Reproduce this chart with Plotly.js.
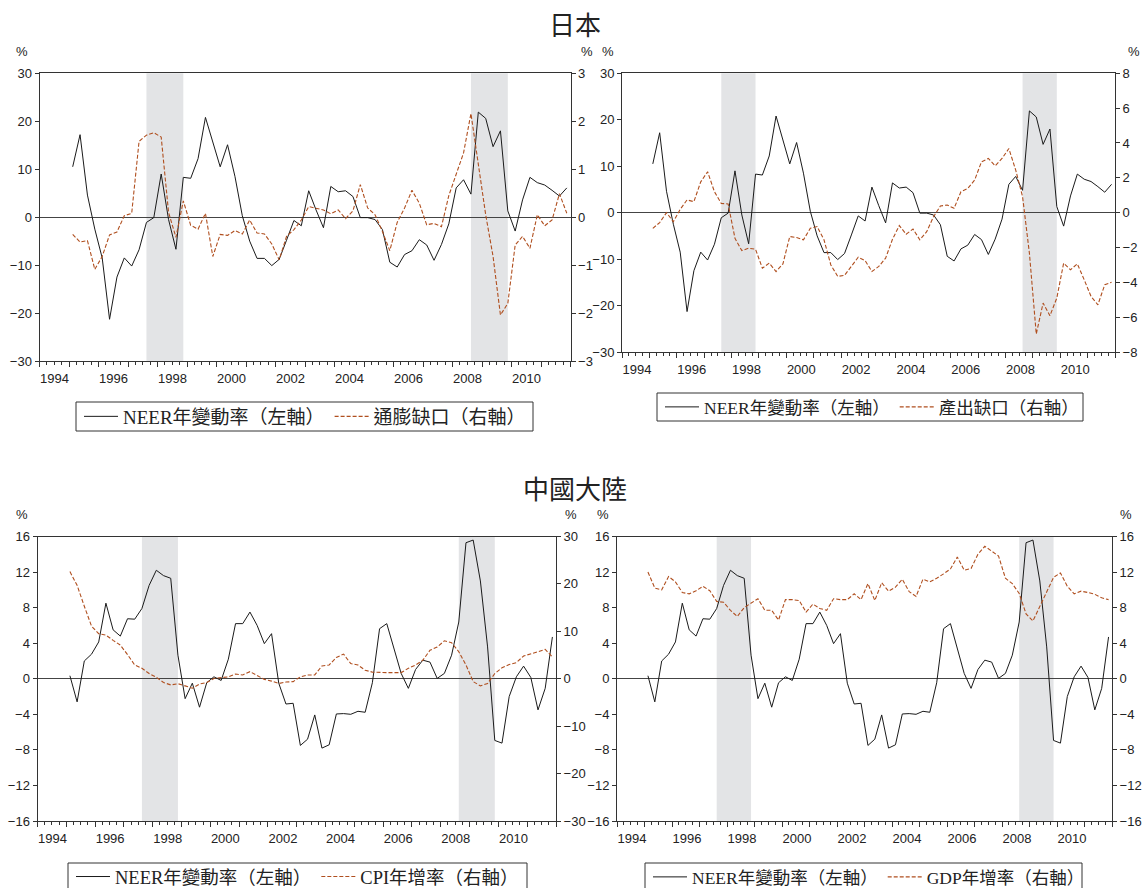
<!DOCTYPE html>
<html>
<head>
<meta charset="utf-8">
<script src="https://cdn.plot.ly/plotly-3.0.1.min.js"></script>
<style>
  html, body { margin: 0; padding: 0; background: #fff; }
  #chart { width: 1142px; height: 888px; }
</style>
</head>
<body>
<div id="chart"></div>
<script>
// Quarterly observations, 1995Q1 – 2011Q4
const firstYear = 1995;
const lastYear = 2011;

// Japan: NEER year-on-year change (%)
const jpNeer = [10.5, 17.2, 4.6, -2.5, -8.5, -21.3, -12.5, -8.5, -10.2, -6.8,
  -1.1, -0.1, 9.0, -0.5, -6.7, 8.3, 8.1, 12.2, 20.8, 15.5,
  10.5, 15.1, 8.5, 0.3, -5.0, -8.6, -8.6, -10.1, -8.8, -4.8,
  -0.7, -1.8, 5.5, 1.5, -2.2, 6.4, 5.3, 5.5, 4.3, -0.1,
  -0.1, -0.5, -2.6, -9.4, -10.4, -7.8, -7.0, -4.7, -5.8, -9.0,
  -5.7, -1.4, 6.1, 7.8, 4.8, 21.9, 20.6, 14.7, 18.0, 1.3,
  -2.9, 3.6, 8.3, 7.2, 6.7, 5.6, 4.4, 6.1];

// Japan: inflation gap (%)
const jpInflationGap = [-0.36, -0.52, -0.49, -1.09, -0.82, -0.37, -0.31, 0.03, 0.08, 1.58,
  1.71, 1.76, 1.67, 0.1, -0.42, 0.34, -0.17, -0.25, 0.08, -0.82,
  -0.36, -0.38, -0.28, -0.35, -0.06, -0.33, -0.35, -0.56, -0.89, -0.40,
  -0.26, -0.06, 0.22, 0.19, 0.15, 0.07, 0.15, -0.03, 0.13, 0.68,
  0.19, 0.05, -0.30, -0.70, -0.11, 0.19, 0.56, 0.29, -0.16, -0.13,
  -0.20, 0.45, 0.88, 1.34, 2.16, 1.06, 0.05, -0.82, -2.04, -1.80,
  -0.58, -0.40, -0.65, 0.05, -0.18, -0.06, 0.49, 0.08];

// Japan: output gap (%)
const jpOutputGap = [-0.9, -0.57, 0.0, -0.52, 0.19, 0.73, 0.63, 1.77, 2.35, 1.2,
  0.53, 0.5, -1.47, -2.18, -2.04, -2.1, -3.19, -2.9, -3.38, -2.94,
  -1.37, -1.43, -1.56, -0.9, -0.8, -1.56, -3.0, -3.66, -3.6, -3.09,
  -2.56, -2.75, -3.38, -3.09, -2.61, -1.53, -0.74, -1.24, -0.94, -1.56,
  -1.09, -0.23, 0.38, 0.44, 0.25, 1.2, 1.39, 1.87, 2.92, 3.11,
  2.69, 3.11, 3.68, 2.44, 0.92, -2.33, -6.97, -5.19, -5.92, -4.9,
  -2.9, -3.28, -2.94, -3.85, -4.81, -5.29, -4.14, -3.99];

// Mainland China: NEER year-on-year change (%)
const cnNeer = [0.34, -2.6, 2.0, 2.76, 4.14, 8.5, 5.5, 4.8, 6.75, 6.7,
  7.9, 10.5, 12.2, 11.6, 11.3, 2.65, -2.24, -0.5, -3.2, -0.45,
  0.22, -0.19, 2.2, 6.2, 6.2, 7.5, 6.0, 3.95, 5.07, -0.5,
  -2.84, -2.76, -7.5, -6.8, -4.07, -7.8, -7.43, -3.96, -3.92, -4.0,
  -3.66, -3.77, -0.45, 5.63, 6.2, 3.28, 0.6, -1.08, 1.04, 2.09,
  1.87, 0.04, 0.6, 2.65, 6.38, 15.3, 15.6, 11.0, 3.58, -6.94,
  -7.24, -2.0, 0.22, 1.42, 0.15, -3.5, -1.08, 4.7];

// Mainland China: CPI year-on-year growth (%)
const cnCpi = [22.6, 19.7, 15.3, 11.1, 9.5, 9.2, 8.1, 7.1, 5.1, 2.9,
  2.2, 1.1, 0.3, -0.8, -1.3, -1.05, -1.5, -2.0, -1.1, -0.8,
  0.07, 0.2, 0.4, 1.0, 0.8, 1.5, 0.6, -0.14, -0.5, -1.0,
  -0.7, -0.6, 0.4, 0.8, 0.8, 2.7, 2.9, 4.5, 5.2, 3.2,
  2.9, 1.8, 1.4, 1.3, 1.3, 1.3, 1.3, 2.2, 2.9, 3.9,
  6.0, 6.7, 8.0, 7.6, 5.7, 2.9, -0.6, -1.5, -1.0, 1.1,
  2.3, 3.0, 3.4, 4.8, 5.2, 5.7, 6.2, 4.6];

// Mainland China: GDP year-on-year growth (%)
const cnGdp = [12.0, 10.2, 10.0, 11.5, 10.9, 9.7, 9.55, 9.9, 10.4, 9.9,
  8.7, 8.6, 7.7, 7.0, 8.0, 8.5, 9.0, 7.7, 7.7, 6.6,
  8.9, 8.9, 8.8, 7.5, 8.4, 7.9, 7.7, 9.0, 8.9, 8.9,
  9.55, 8.9, 10.7, 8.8, 10.8, 9.85, 10.3, 11.2, 9.8, 9.25,
  11.2, 10.9, 11.3, 11.8, 12.35, 13.7, 12.2, 12.4, 14.0, 14.9,
  14.3, 13.8, 11.3, 10.7, 9.6, 7.3, 6.5, 8.2, 9.7, 11.4,
  11.9, 10.4, 9.55, 9.85, 9.7, 9.5, 9.1, 8.9];

// Shaded crisis periods (first and last quarter)
const shadedPeriods = [["1997Q3", "1998Q4"], ["2008Q3", "2009Q4"]];

// Legend labels
const neerLabel = "NEER年變動率（左軸）";
const inflationGapLabel = "通膨缺口（右軸）";
const outputGapLabel = "產出缺口（右軸）";
const cpiLabel = "CPI年增率（右軸）";
const gdpLabel = "GDP年增率（右軸）";

// Section headings
const headingJapan = "日本";
const headingChina = "中國大陸";

// ---- time index -------------------------------------------------------
const quarterLabels = [];
for (let y = firstYear; y <= lastYear; y++) {
  for (let q = 1; q <= 4; q++) quarterLabels.push(y + "Q" + q);
}
// each quarter is plotted at the centre of its interval on a decimal-year axis
function quarterPos(label) {
  const y = parseInt(label.slice(0, 4), 10);
  const q = parseInt(label.slice(5), 10);
  return y + (q - 1) * 0.25 + 0.125;
}
const xq = quarterLabels.map(quarterPos);

// ---- page geometry (pixels) -------------------------------------------
const W = 1142, H = 888;
const px = v => v / W;
const py = v => 1 - v / H;

const tickFont = { family: "Liberation Sans, Arial, sans-serif", size: 13, color: "#222" };
const legendFamily = "Liberation Serif, 'Noto Sans CJK TC', serif";
const axisColor = "#333";
const neerColor = "#1a1a1a";
const gapColor = "#b04f1f";

const axisYears = [];
for (let y = 1994; y <= 2012; y++) axisYears.push(y);
const axisYearText = axisYears.map(y => (y % 2 === 0 && y < 2012) ? String(y) : "");

const panels = [
  { xa: "x",  yl: "y",  yr: "y2", box: [39.5, 570.5, 73.3, 361],
    left: [-30, 30, 10], right: [-3, 3, 1],
    neer: jpNeer, other: jpInflationGap, otherName: inflationGapLabel,
    legend: "legend", legendBox: [76, 533, 402, 431], legendFont: 19,
    pct: [22, 587], pctY: 52 },
  { xa: "x2", yl: "y3", yr: "y4", box: [622, 1115, 73.3, 352],
    left: [-30, 30, 10], right: [-8, 8, 2],
    neer: jpNeer, other: jpOutputGap, otherName: outputGapLabel,
    legend: "legend2", legendBox: [657, 1083, 393, 421], legendFont: 17.5,
    pct: [608, 1134], pctY: 52 },
  { xa: "x3", yl: "y5", yr: "y6", box: [37.5, 556, 536.5, 821],
    left: [-16, 16, 4], right: [-30, 30, 10],
    neer: cnNeer, other: cnCpi, otherName: cpiLabel,
    legend: "legend3", legendBox: [68, 527, 863, 893], legendFont: 18.5,
    pct: [22, 571], pctY: 514 },
  { xa: "x4", yl: "y7", yr: "y8", box: [617, 1112, 536.5, 821],
    left: [-16, 16, 4], right: [-16, 16, 4],
    neer: cnNeer, other: cnGdp, otherName: gdpLabel,
    legend: "legend4", legendBox: [645, 1082, 863, 893], legendFont: 17.5,
    pct: [603, 1126], pctY: 514 }
];

const axKey = id => id[0] + "axis" + id.slice(1);

const data = [];
const layout = {
  width: W, height: H,
  margin: { l: 0, r: 0, t: 0, b: 0, autoexpand: false },
  paper_bgcolor: "#fff", plot_bgcolor: "#fff",
  showlegend: true,
  shapes: [], annotations: []
};

panels.forEach(p => {
  const [x0, x1, yTop, yBot] = p.box;

  layout[axKey(p.xa)] = {
    domain: [px(x0), px(x1)], anchor: p.yl,
    range: [1994, 2012], tickmode: "array",
    tickvals: axisYears, ticktext: axisYearText,
    ticks: "outside", ticklen: 5, tickwidth: 1, tickcolor: axisColor,
    ticklabelshift: 15,
    minor: { tick0: 1994, dtick: 0.25, ticks: "outside", ticklen: 3, tickwidth: 1,
             tickcolor: axisColor, showgrid: false },
    showline: true, mirror: true, linecolor: axisColor, linewidth: 1,
    showgrid: false, zeroline: false, tickfont: tickFont, fixedrange: true
  };
  layout[axKey(p.yl)] = {
    domain: [py(yBot), py(yTop)], anchor: p.xa,
    range: [p.left[0], p.left[1]], tickmode: "linear", tick0: 0, dtick: p.left[2],
    ticks: "outside", ticklen: 4, tickwidth: 1, tickcolor: axisColor,
    showline: true, linecolor: axisColor, linewidth: 1,
    showgrid: false, zeroline: true, zerolinecolor: "#444", zerolinewidth: 1,
    tickfont: tickFont, fixedrange: true
  };
  layout[axKey(p.yr)] = {
    overlaying: p.yl, side: "right", anchor: p.xa,
    range: [p.right[0], p.right[1]], tickmode: "linear", tick0: 0, dtick: p.right[2],
    ticks: "outside", ticklen: 4, tickwidth: 1, tickcolor: axisColor,
    showline: true, linecolor: axisColor, linewidth: 1,
    showgrid: false, zeroline: false, tickfont: tickFont, fixedrange: true
  };

  shadedPeriods.forEach(([a, b]) => {
    layout.shapes.push({
      type: "rect", xref: p.xa, yref: p.yl + " domain",
      x0: quarterPos(a), x1: quarterPos(b), y0: 0, y1: 1,
      fillcolor: "#e3e4e6", line: { width: 0 }, layer: "below"
    });
  });

  data.push({
    type: "scatter", mode: "lines", x: xq, y: p.neer,
    xaxis: p.xa, yaxis: p.yl, name: neerLabel, legend: p.legend,
    line: { color: neerColor, width: 1 }, hoverinfo: "skip"
  });
  data.push({
    type: "scatter", mode: "lines", x: xq, y: p.other,
    xaxis: p.xa, yaxis: p.yr, name: p.otherName, legend: p.legend,
    line: { color: gapColor, width: 1.1, dash: "4px,2px" }, hoverinfo: "skip"
  });

  // legend frame
  const [lx0, lx1, ly0, ly1] = p.legendBox;
  layout.shapes.push({
    type: "rect", xref: "paper", yref: "paper",
    x0: px(lx0), x1: px(lx1), y0: py(ly1), y1: py(ly0),
    line: { color: "#333", width: 1 }, fillcolor: "rgba(0,0,0,0)", layer: "above"
  });
  layout[p.legend] = {
    x: px(lx0 + 3), y: py(Math.min((ly0 + ly1) / 2, 877)),
    xanchor: "left", yanchor: "middle", orientation: "h",
    bgcolor: "rgba(0,0,0,0)", borderwidth: 0,
    font: { family: legendFamily, size: p.legendFont, color: "#222" },
    itemwidth: 34, traceorder: "normal"
  };

  p.pct.forEach(xp => {
    layout.annotations.push({
      xref: "paper", yref: "paper", x: px(xp), y: py(p.pctY),
      xanchor: "center", yanchor: "middle", showarrow: false,
      text: "%", font: { family: "Liberation Sans, Arial, sans-serif", size: 13, color: "#222" }
    });
  });
});

// section headings
[[headingJapan, 24], [headingChina, 487]].forEach(([t, yp]) => {
  layout.annotations.push({
    xref: "paper", yref: "paper", x: px(575), y: py(yp),
    xanchor: "center", yanchor: "middle", showarrow: false,
    text: t, font: { family: "'Noto Sans CJK TC', sans-serif", size: 26, color: "#222" }
  });
});

Plotly.newPlot("chart", data, layout, { displayModeBar: false, staticPlot: true });
</script>
</body>
</html>
